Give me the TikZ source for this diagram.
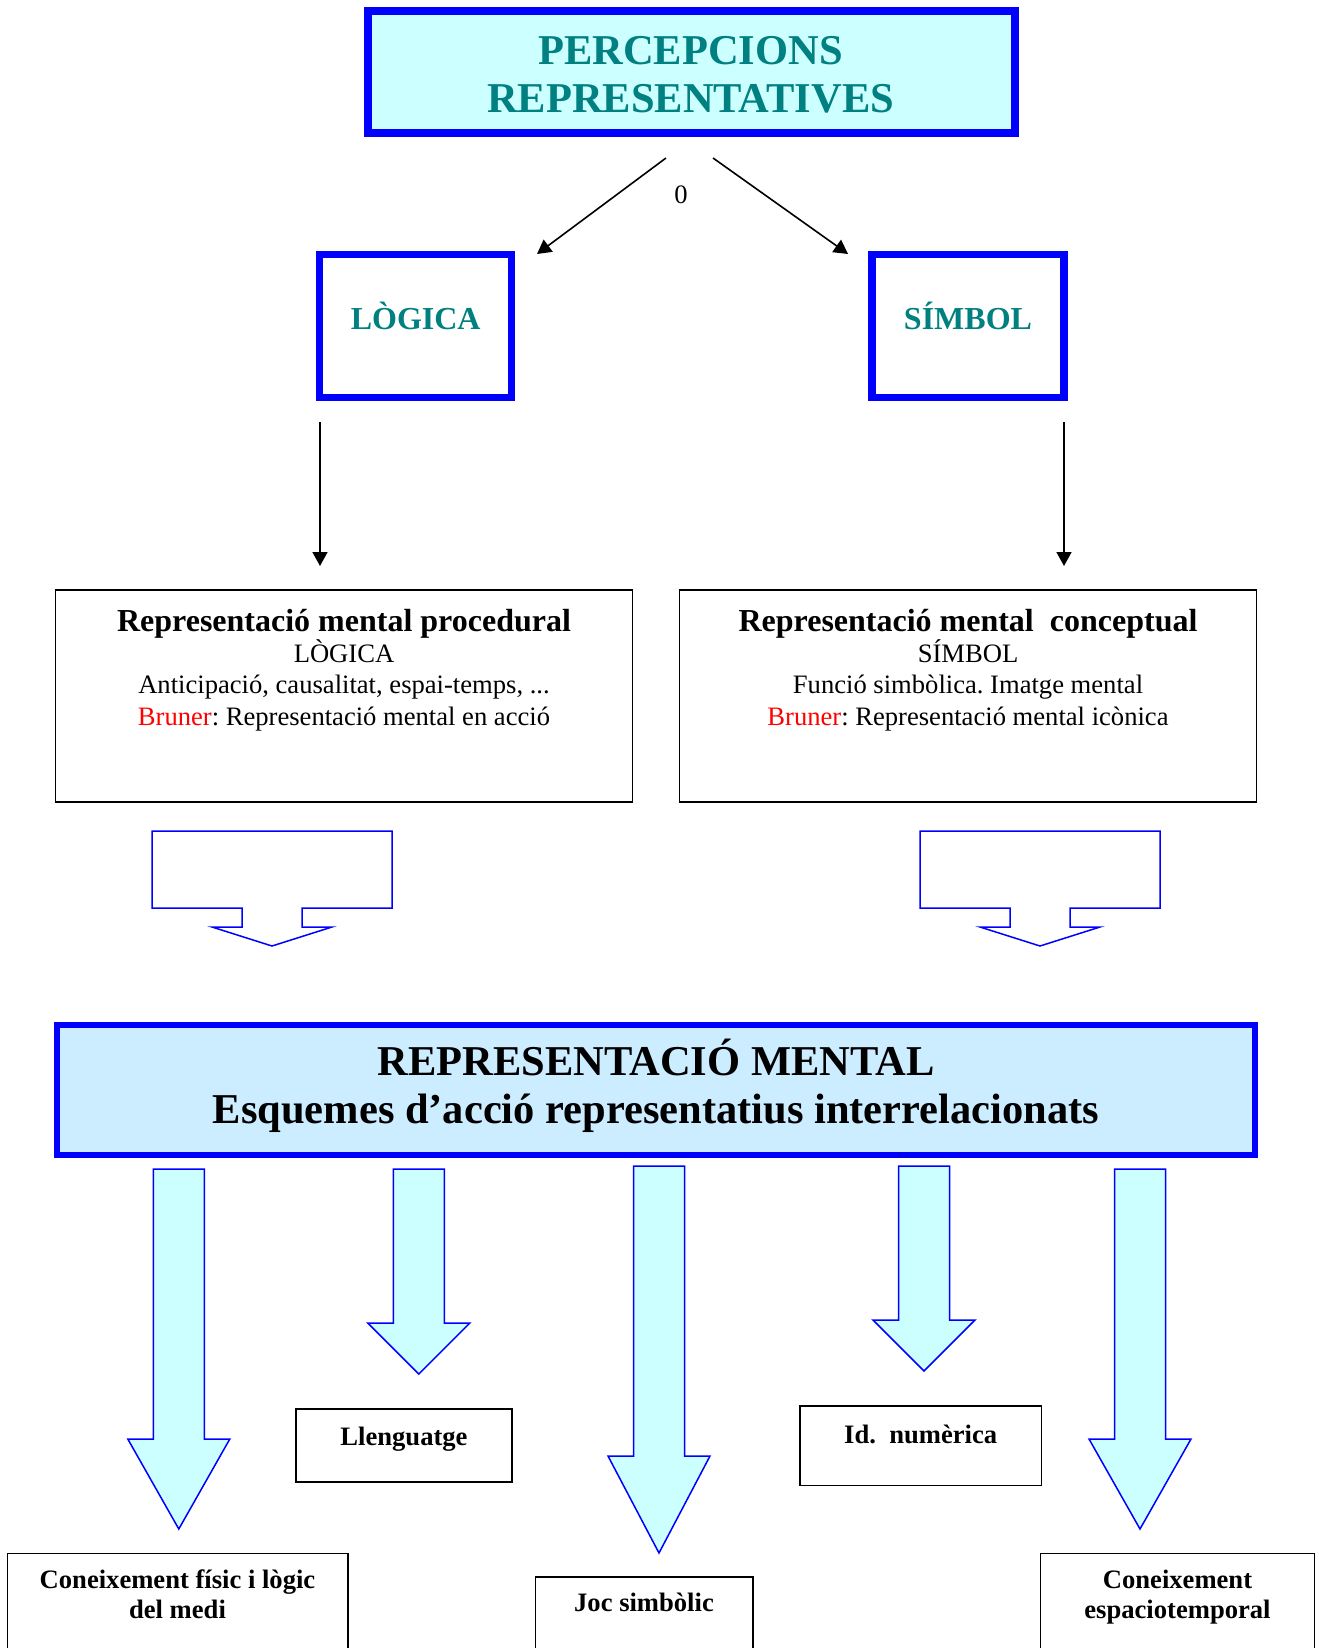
\documentclass[tikz,border=0pt]{standalone}
\usepackage{fontspec}
\setmainfont{Liberation Serif}
\usepackage{tikz}
\usetikzlibrary{arrows.meta}
\frenchspacing
\definecolor{tealtext}{RGB}{0,128,128}
\definecolor{cyanfill}{RGB}{204,255,255}
\definecolor{skyfill}{RGB}{204,236,255}
\tikzstyle{headbox}=[draw=blue,line width=4pt,fill=cyanfill,minimum width=322.5pt,minimum height=61pt]
\tikzstyle{headtext}=[inner sep=0pt,align=center,anchor=base,font=\bfseries\fontsize{21.25}{24}\selectfont]
\tikzstyle{kindbox}=[draw=blue,line width=3.75pt,fill=white,minimum width=96pt,minimum height=71.5pt,text=tealtext,font=\bfseries\fontsize{16}{19}\selectfont,text height=14pt,text depth=10.3pt]
\tikzstyle{descbox}=[draw,line width=0.8pt,minimum width=288.5pt,minimum height=106pt]
\tikzstyle{desctext}=[inner sep=0pt,align=center,anchor=base,font=\fontsize{13.3}{15.6}\selectfont]
\tikzstyle{leafbox}=[draw,line width=0.8pt,font=\bfseries\fontsize{13.3}{15}\selectfont]
\tikzstyle{leaftext}=[inner sep=0pt,align=center,anchor=base,font=\bfseries\fontsize{13.3}{15}\selectfont]
\tikzstyle{link}=[draw,line width=0.8pt,-{Triangle[length=7pt,width=7.5pt]}]
\tikzstyle{hollow}=[draw=blue,line width=0.75pt,fill=white]
\tikzstyle{block}=[draw=blue,line width=0.75pt,fill=cyanfill]

\begin{document}
\begin{tikzpicture}[x=0.5pt,y=-0.5pt]
  \useasboundingbox (0,0) rectangle (1318,1648);
  \clip (0,0) rectangle (1318,1648);

  % top title
  \node[headbox,minimum width=323.5pt] (perc) at (691,72) {};
  \node[headtext,text=tealtext] (perctxt) at (690.5,113) {PERCEPCIONS\\REPRESENTATIVES};
  \node[font=\fontsize{13.3}{15}\selectfont] (zero) at (681,195) {0};

  % the two kinds
  \node[kindbox] (logica) at (415.7,326) {LÒGICA};
  \node[kindbox] (simbol) at (968,326) {SÍMBOL};

  \coordinate (pl) at (666,158);  \coordinate (ql) at (537,254);
  \coordinate (pr) at (713,158);  \coordinate (qr) at (848,254);
  \coordinate (la) at (320,422);  \coordinate (lb) at (320,566);
  \coordinate (ra) at (1064,422); \coordinate (rb) at (1064,566);
  \foreach \source/\dest in {pl/ql, pr/qr, la/lb, ra/rb}
    \path[link] (\source) -- (\dest);

  % description boxes
  \node[descbox] (proc) at (344,696) {};
  \node[descbox] (conc) at (968,696) {};
  \node[desctext] (proctxt) at (344,725) {{\bfseries\fontsize{16}{16}\selectfont Representació mental procedural}\\
    LÒGICA\\Anticipació, causalitat, espai-temps, ...\\\textcolor{red}{Bruner}: Representació mental en acció};
  \node[desctext] (conctxt) at (968,725) {{\bfseries\fontsize{16}{16}\selectfont Representació mental~ conceptual}\\
    SÍMBOL\\Funció simbòlica. Imatge mental\\\textcolor{red}{Bruner}: Representació mental icònica};

  % hollow arrows
  \foreach \cx in {272,1040}
    \draw[hollow] (\cx-120,831) -- (\cx+120,831) -- (\cx+120,908) -- (\cx+30,908) -- (\cx+30,927)
      -- (\cx+60,927) -- (\cx,946) -- (\cx-60,927) -- (\cx-30,927) -- (\cx-30,908) -- (\cx-120,908) -- cycle;

  % main box
  \node[headbox,line width=2.8pt,fill=skyfill,minimum width=599pt,minimum height=65pt] (repr) at (656,1090) {};
  \node[headtext] (reprtxt) at (656,1123) {REPRESENTACIÓ MENTAL\\Esquemes d’acció representatius interrelacionats};

  % block arrows
  \foreach \cx/\ytop/\yshould/\ytip in {178.8/1169/1439/1529, 418.8/1169/1323/1374, 659/1166/1456/1553,
                                       924/1166/1320/1371, 1140/1169/1439/1529}
    \draw[block] (\cx-25.5,\ytop) -- (\cx+25.5,\ytop) -- (\cx+25.5,\yshould) -- (\cx+51,\yshould)
      -- (\cx,\ytip) -- (\cx-51,\yshould) -- (\cx-25.5,\yshould) -- cycle;

  % leaves
  \node[leafbox,minimum width=108pt,minimum height=36.5pt,text height=8pt,text depth=8pt] (lleng) at (404,1445.5) {Llenguatge};
  \node[leafbox,minimum width=120.7pt,minimum height=39.7pt,text height=8pt,text depth=10.7pt] (numer) at (920.7,1445.7) {Id.~ numèrica};
  \node[leafbox,minimum width=108.7pt,minimum height=41.5pt,text height=8pt,text depth=15.5pt] (joc) at (644,1618.5) {Joc simbòlic};
  \node[leafbox,minimum width=170.2pt,minimum height=63.4pt] (medi) at (177.5,1616.7) {};
  \node[leafbox,minimum width=137pt,minimum height=63.4pt] (espai) at (1177.5,1616.7) {};
  \node[leaftext] (meditxt) at (177.5,1618) {Coneixement físic i lògic\\del medi};
  \node[leaftext] (espaitxt) at (1177.5,1618) {Coneixement\\espaciotemporal};
\end{tikzpicture}
\end{document}
